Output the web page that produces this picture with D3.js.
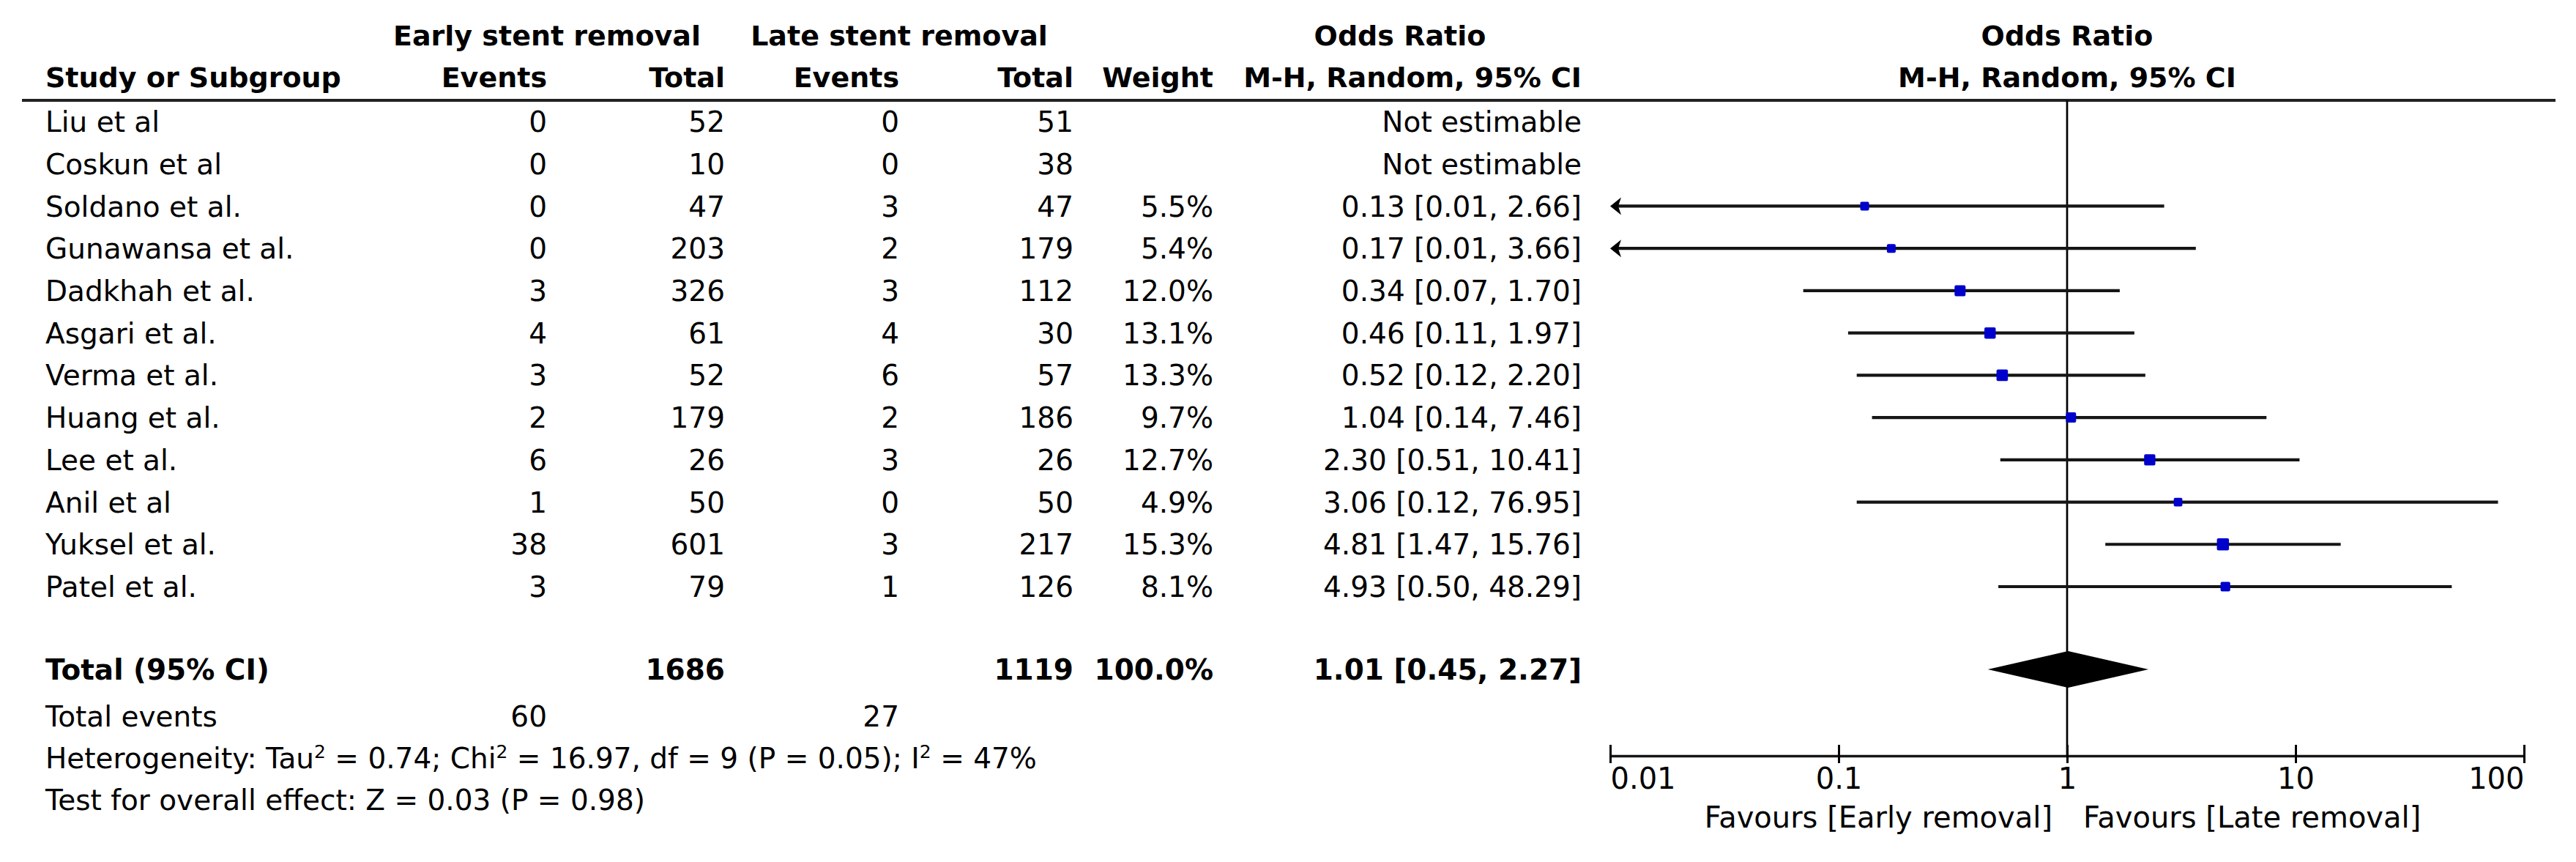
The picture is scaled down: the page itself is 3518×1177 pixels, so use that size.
<!DOCTYPE html>
<html>
<head>
<meta charset="utf-8">
<script src="https://cdn.jsdelivr.net/npm/d3@7"></script>
<style>
  body { margin: 0; background: #fff; }
  text { font-family: "DejaVu Sans", Verdana, sans-serif; fill: #000; }
</style>
</head>
<body>
<svg id="forest"></svg>
<script>
// study level data
var studies = ["Liu et al", "Coskun et al", "Soldano et al.", "Gunawansa et al.", "Dadkhah et al.",
    "Asgari et al.", "Verma et al.", "Huang et al.", "Lee et al.", "Anil et al", "Yuksel et al.", "Patel et al."]
var eventsEarly = [0, 0, 0, 0, 3, 4, 3, 2, 6, 1, 38, 3]
var totalEarly = [52, 10, 47, 203, 326, 61, 52, 179, 26, 50, 601, 79]
var eventsLate = [0, 0, 3, 2, 3, 4, 6, 2, 3, 0, 3, 1]
var totalLate = [51, 38, 47, 179, 112, 30, 57, 186, 26, 50, 217, 126]
var weights = [null, null, 5.5, 5.4, 12.0, 13.1, 13.3, 9.7, 12.7, 4.9, 15.3, 8.1]
var orEst = [null, null, 0.13, 0.17, 0.34, 0.46, 0.52, 1.04, 2.30, 3.06, 4.81, 4.93]
var orLow = [null, null, 0.01, 0.01, 0.07, 0.11, 0.12, 0.14, 0.51, 0.12, 1.47, 0.50]
var orHigh = [null, null, 2.66, 3.66, 1.70, 1.97, 2.20, 7.46, 10.41, 76.95, 15.76, 48.29]

// pooled result
var pooledTotals = [1686, 1119]
var pooledEvents = [60, 27]
var pooledOR = [1.01, 0.45, 2.27]

var tickValues = [0.01, 0.1, 1, 10, 100]
var tickLabels = ["0.01", "0.1", "1", "10", "100"]

var dimensions = {
    width: 3518,
    height: 1177
}

var svg = d3.select("#forest")
    .attr("width", dimensions.width)
    .attr("height", dimensions.height)

svg.append("rect")
    .attr("width", dimensions.width)
    .attr("height", dimensions.height)
    .attr("fill", "#fff")

var fs = 39
var col = {
    study: 62,
    evE: 747,
    totE: 990,
    evL: 1228,
    totL: 1466,
    weight: 1657,
    or: 2160
}

var yScale = d3.scaleLinear()
    .domain([0, studies.length - 1])
    .range([166, 801])

var xScale = d3.scaleLog()
    .domain([0.01, 100])
    .range([2199, 3447])

// square side grows with the weight
var sizeScale = d3.scaleLinear()
    .domain([0, 15.3])
    .range([9.5, 16.5])

function txt(x, y, s, anchor, bold, size) {
    return svg.append("text")
        .attr("x", x)
        .attr("y", y)
        .attr("dy", "0.36em")
        .attr("text-anchor", anchor || "start")
        .attr("font-weight", bold ? "bold" : "normal")
        .attr("font-size", (size || fs) + "px")
        .text(s)
}

// headers
var hb = 38
txt((col.evE), 48, "Early stent removal", "middle", true, hb)
txt((col.evL), 48, "Late stent removal", "middle", true, hb)
txt(1912, 48, "Odds Ratio", "middle", true, hb)
txt(xScale(1), 48, "Odds Ratio", "middle", true, hb)

txt(col.study, 105, "Study or Subgroup", "start", true, hb)
txt(col.evE, 105, "Events", "end", true, hb)
txt(col.totE, 105, "Total", "end", true, hb)
txt(col.evL, 105, "Events", "end", true, hb)
txt(col.totL, 105, "Total", "end", true, hb)
txt(col.weight, 105, "Weight", "end", true, hb)
txt(col.or, 105, "M-H, Random, 95% CI", "end", true, hb)
txt(xScale(1), 105, "M-H, Random, 95% CI", "middle", true, hb)

svg.append("line")
    .attr("x1", 30).attr("x2", 3490)
    .attr("y1", 137).attr("y2", 137)
    .attr("stroke", "#222")
    .attr("stroke-width", 4)

// study rows
var rows = svg.append("g")
    .selectAll("g")
    .data(studies)
    .enter()
    .append("g")
    .attr("transform", (d, i) => `translate(0,${yScale(i)})`)

function cell(x, anchor, f) {
    rows.append("text")
        .attr("x", x)
        .attr("dy", "0.36em")
        .attr("text-anchor", anchor)
        .attr("font-size", fs + "px")
        .text(f)
}
cell(col.study, "start", d => d)
cell(col.evE, "end", (d, i) => eventsEarly[i])
cell(col.totE, "end", (d, i) => totalEarly[i])
cell(col.evL, "end", (d, i) => eventsLate[i])
cell(col.totL, "end", (d, i) => totalLate[i])
cell(col.weight, "end", (d, i) => weights[i] == null ? "" : weights[i].toFixed(1) + "%")
cell(col.or, "end", (d, i) => orEst[i] == null
    ? "Not estimable"
    : `${orEst[i].toFixed(2)} [${orLow[i].toFixed(2)}, ${orHigh[i].toFixed(2)}]`)

// plot: null line
var yAxisPos = 1032
svg.append("line")
    .attr("x1", xScale(1)).attr("x2", xScale(1))
    .attr("y1", 137).attr("y2", yAxisPos)
    .attr("stroke", "#000")
    .attr("stroke-width", 2.7)

var est = studies.map((d, i) => i).filter(i => orEst[i] != null)
var xMin = xScale.domain()[0]

svg.append("g")
    .selectAll("line")
    .data(est)
    .enter()
    .append("line")
    .attr("x1", i => xScale(Math.max(orLow[i], xMin)) + (orLow[i] <= xMin ? 8 : 0))
    .attr("x2", i => xScale(orHigh[i]))
    .attr("y1", i => yScale(i))
    .attr("y2", i => yScale(i))
    .attr("stroke", "#151515")
    .attr("stroke-width", 4.2)

// arrows where the CI runs off the left end
svg.append("g")
    .selectAll("path")
    .data(est.filter(i => orLow[i] <= xMin))
    .enter()
    .append("path")
    .attr("d", i => {
        var x0 = xScale(xMin), y0 = yScale(i)
        return `M${x0},${y0} L${x0 + 15},${y0 - 12} L${x0 + 11},${y0} L${x0 + 15},${y0 + 12} Z`
    })
    .attr("fill", "#000")

svg.append("g")
    .selectAll("rect")
    .data(est)
    .enter()
    .append("rect")
    .attr("x", i => xScale(orEst[i]) - sizeScale(weights[i]) / 2)
    .attr("y", i => yScale(i) - sizeScale(weights[i]) / 2)
    .attr("width", i => sizeScale(weights[i]))
    .attr("height", i => sizeScale(weights[i]))
    .attr("rx", 2)
    .attr("fill", "#0000cc")

// total rows
var yTotal = 914
txt(col.study, yTotal, "Total (95% CI)", "start", true)
txt(col.totE, yTotal, pooledTotals[0], "end", true)
txt(col.totL, yTotal, pooledTotals[1], "end", true)
txt(col.weight, yTotal, "100.0%", "end", true)
txt(col.or, yTotal, `${pooledOR[0].toFixed(2)} [${pooledOR[1].toFixed(2)}, ${pooledOR[2].toFixed(2)}]`, "end", true)

svg.append("path")
    .attr("d", `M${xScale(pooledOR[1])},${yTotal} L${xScale(pooledOR[0])},${yTotal - 25} L${xScale(pooledOR[2])},${yTotal} L${xScale(pooledOR[0])},${yTotal + 25} Z`)
    .attr("fill", "#000")

txt(col.study, 978, "Total events", "start")
txt(col.evE, 978, pooledEvents[0], "end")
txt(col.evL, 978, pooledEvents[1], "end")

var het = txt(col.study, 1035, "", "start")
var sup = (t) => het.append("tspan").attr("font-size", "25px").attr("dy", "-14").text(t)
var norm = (t) => het.append("tspan").attr("font-size", fs + "px").attr("dy", "14").text(t)
het.append("tspan").text("Heterogeneity: Tau")
sup("2"); norm(" = 0.74; Chi")
sup("2"); norm(" = 16.97, df = 9 (P = 0.05); I")
sup("2"); norm(" = 47%")

txt(col.study, 1092, "Test for overall effect: Z = 0.03 (P = 0.98)", "start")

// x axis
var xAxisGen = d3.axisBottom(xScale)
    .tickValues(tickValues)
    .tickFormat((d, i) => tickLabels[i])
    .tickSize(-15)
    .tickSizeOuter(0)
    .tickPadding(17)

var xAxis = svg.append("g")
    .attr("transform", `translate(0,${yAxisPos})`)
    .call(xAxisGen)

xAxis.select(".domain").attr("stroke", "#151515").attr("stroke-width", 3.5)
xAxis.selectAll(".tick line").attr("y1", 10).attr("stroke", "#000").attr("stroke-width", 3)
xAxis.selectAll(".tick text")
    .attr("font-size", "40px")
    .attr("font-family", "DejaVu Sans, Verdana, sans-serif")
    .attr("fill", "#000")
    .attr("text-anchor", (d, i) => i == 0 ? "start" : (i == tickValues.length - 1 ? "end" : "middle"))

txt(xScale(1) - 20, 1116, "Favours [Early removal]", "end", false, 40)
txt(xScale(1) + 22, 1116, "Favours [Late removal]", "start", false, 40)
</script>
</body>
</html>
